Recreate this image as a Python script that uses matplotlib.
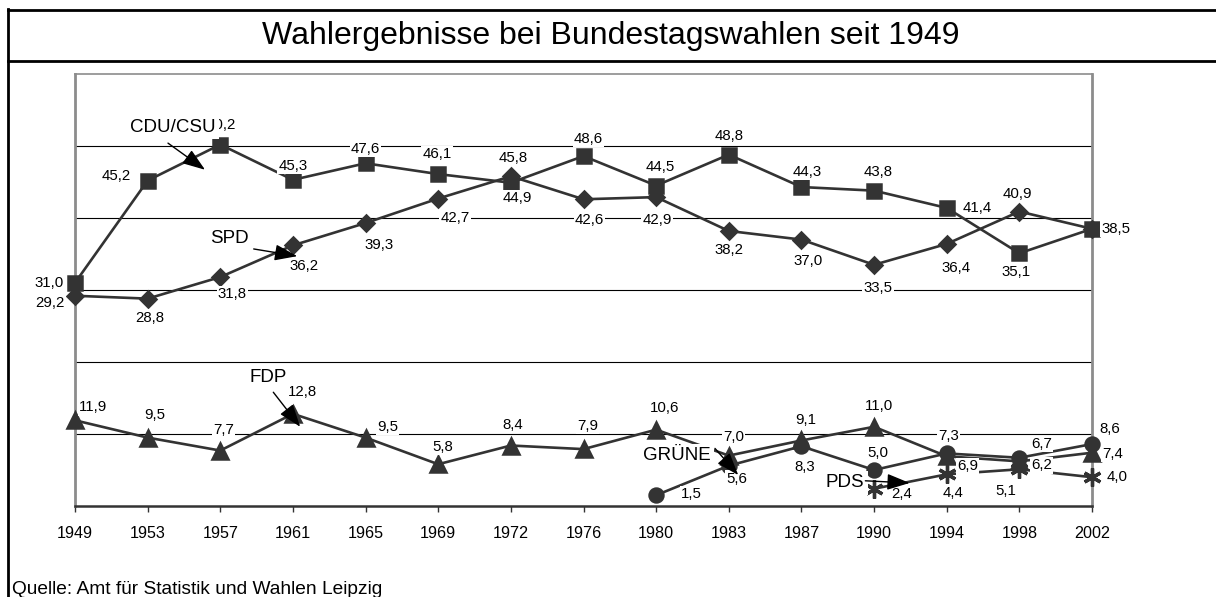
import matplotlib
matplotlib.use("Agg")
import matplotlib.pyplot as plt
from matplotlib.lines import Line2D

plt.rcParams['font.family'] = ['Liberation Sans', 'DejaVu Sans']

# election years (categorical axis)
years = ['1949', '1953', '1957', '1961', '1965', '1969', '1972', '1976',
         '1980', '1983', '1987', '1990', '1994', '1998', '2002']

cdu = [31.0, 45.2, 50.2, 45.3, 47.6, 46.1, 44.9, 48.6, 44.5, 48.8, 44.3, 43.8, 41.4, 35.1, 38.5]
spd = [29.2, 28.8, 31.8, 36.2, 39.3, 42.7, 45.8, 42.6, 42.9, 38.2, 37.0, 33.5, 36.4, 40.9, 38.5]
fdp = [11.9, 9.5, 7.7, 12.8, 9.5, 5.8, 8.4, 7.9, 10.6, 7.0, 9.1, 11.0, 6.9, 6.2, 7.4]
gruene_years = ['1980', '1983', '1987', '1990', '1994', '1998', '2002']
gruene = [1.5, 5.6, 8.3, 5.0, 7.3, 6.7, 8.6]
pds_years = ['1990', '1994', '1998', '2002']
pds = [2.4, 4.4, 5.1, 4.0]

# label offsets in pixels (dx, dy up), placed by hand like the original
cdu_off = [(-26, 0), (-31, 5), (1, 20), (0, 14), (0, 14), (-1, 20), (6, -15), (5, 17),
           (4, 19), (0, 19), (6, 15), (4, 19), (31, 0), (-3, -19), (24, 0)]
spd_off = [(-25, -7), (2, -19), (12, -17), (11, -21), (13, -22), (17, -19), (2, 18), (6, -21),
           (1, -23), (0, -19), (7, -21), (4, -23), (9, -24), (-2, 18), None]
fdp_off = [(18, 13), (7, 23), (3, 21), (10, 22), (22, 11), (5, 17), (2, 21), (4, 23),
           (8, 22), (5, 19), (4, 20), (5, 21), (21, -10), (22, -4), (21, -1)]
gruene_off = [(35, 1), (8, -13), (3, -21), (4, 17), (2, 17), (22, 14), (18, 15)]
pds_off = [(28, -5), (6, -19), (-14, -22), (25, 0)]

W, H = 1216, 597
fig = plt.figure(figsize=(W / 100, H / 100), dpi=100)
fig.patch.set_facecolor('white')

# plot area in pixels: x 75..1092, y 74..506
ax = fig.add_axes([75 / W, (H - 506) / H, (1092 - 75) / W, (506 - 74) / H])
ax.set_xlim(0, len(years) - 1)
ax.set_ylim(0, 60)

for v in [10, 20, 30, 40, 50]:
    ax.axhline(v, color='black', lw=0.8, zorder=0.5)

dark = '#333333'
pos = {y: i for i, y in enumerate(years)}


def draw(xs, vals, marker, ms, offs, mew=1.8):
    xi = [pos[x] for x in xs]
    ax.plot(xi, vals, color=dark, lw=1.9, marker=marker, ms=ms, mfc=dark, mec=dark,
            mew=mew, zorder=2.6, clip_on=False)
    for x, v, o in zip(xi, vals, offs):
        if o is None:
            continue
        ax.annotate(f'{v:.1f}'.replace('.', ','), (x, v), xytext=o, textcoords='offset pixels',
                    ha='center', va='center', fontsize=10.8, zorder=3, annotation_clip=False,
                    bbox=dict(boxstyle='square,pad=0.08', fc='white', ec='none'))


draw(years, cdu, 's', 10, cdu_off)
draw(years, spd, 'D', 8.5, spd_off)
draw(years, fdp, '^', 11, fdp_off)
draw(gruene_years, gruene, 'o', 10, gruene_off)
draw(pds_years, pds, (6, 2, 0), 13, pds_off, mew=2.4)

# party name callouts with arrows
callouts = [('CDU/CSU', (1.35, 52.6), (1.28, 50.4), (1.79, 46.7)),
            ('SPD', (2.13, 37.1), (2.46, 35.7), (3.06, 34.7)),
            ('FDP', (2.66, 17.8), (2.73, 15.8), (3.10, 11.0)),
            ('GRÜNE', (8.29, 7.0), (8.81, 8.0), (9.13, 4.3)),
            ('PDS', (10.60, 3.2), (10.88, 3.5), (11.49, 3.2))]
for name, txt, tail, tip in callouts:
    ax.text(*txt, name, ha='center', va='center', fontsize=13.5, zorder=4,
            bbox=dict(boxstyle='square,pad=0.18', fc='white', ec='none'))
    ax.annotate('', xy=tip, xytext=tail, zorder=5, annotation_clip=False,
                arrowprops=dict(arrowstyle='-|>,head_length=0.7,head_width=0.25',
                                mutation_scale=20, color='black', lw=1,
                                shrinkA=0, shrinkB=0))

ax.set_xticks(range(len(years)))
ax.set_xticklabels(years, fontsize=11.6)
ax.set_yticks([])
ax.tick_params(axis='x', direction='out', length=4.5, width=1, color=dark, pad=10)
for s in ['left', 'right']:
    ax.spines[s].set_color('#8c8c8c')
    ax.spines[s].set_linewidth(2)
ax.spines['top'].set_color('#8c8c8c')
ax.spines['top'].set_linewidth(1.2)
ax.spines['bottom'].set_color(dark)
ax.spines['bottom'].set_linewidth(1.8)


# outer frame and title box
def fline(x0, y0, x1, y1):
    fig.add_artist(Line2D([x0 / W, x1 / W], [1 - y0 / H, 1 - y1 / H],
                          color='black', lw=2, transform=fig.transFigure))


fline(8, 10, 1216, 10)
fline(8, 61, 1216, 61)
fline(8, 9, 8, 597)

fig.text(611 / W, 1 - 36 / H, 'Wahlergebnisse bei Bundestagswahlen seit 1949',
         ha='center', va='center', fontsize=23)
fig.text(12 / W, 1 - 594 / H, 'Quelle: Amt für Statistik und Wahlen Leipzig',
         ha='left', va='baseline', fontsize=13.8)

fig.savefig('out.png', dpi=100)
